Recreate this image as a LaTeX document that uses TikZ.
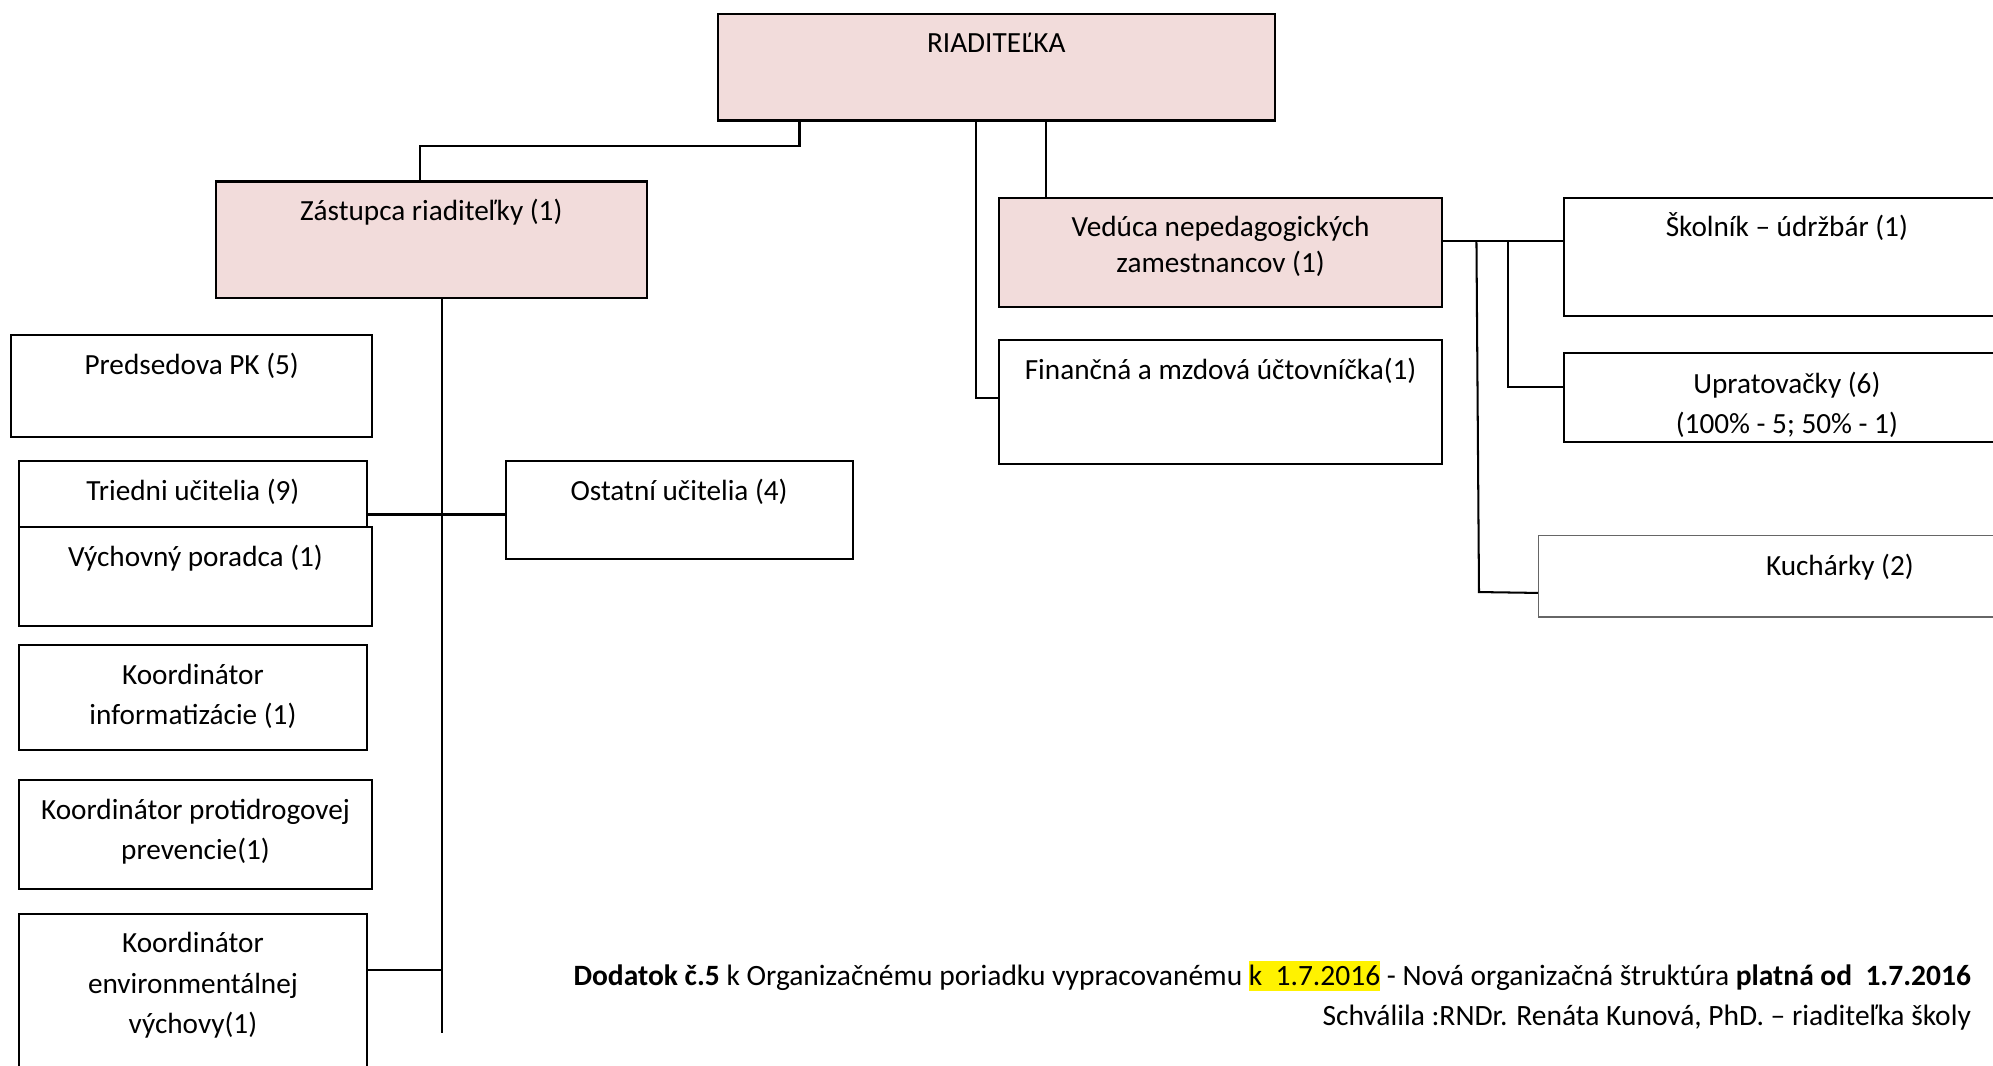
\documentclass[tikz,border=0pt]{standalone}
\usepackage{fontspec}
\setmainfont{Carlito}
\definecolor{pinkbox}{RGB}{242,220,219}
\tikzset{
  box/.style={draw, line width=0.8pt, anchor=north west, inner sep=0pt},
  boss/.style={box, fill=pinkbox},
  lbl/.style={anchor=north, inner sep=0pt, align=center, yshift=-5.5pt,
    execute at begin node={\rule{0pt}{10pt}},
    font=\fontsize{11.5}{16}\selectfont},
  lbltwo/.style={lbl, yshift=-2pt},
  link/.style={line width=0.8pt},
}
\begin{document}
\begin{tikzpicture}[x=0.5pt,y=-0.5pt]
    \useasboundingbox (0,0) rectangle (1568,838);
    \clip (0,0) rectangle (1568,838);

    % top
    \node[boss, minimum width=219pt, minimum height=42pt, label={[lbl]north:RIADITEĽKA}] (riad) at (564,10) {};
    \node[boss, minimum width=169.5pt, minimum height=46pt, label={[lbl]north:Zástupca riaditeľky (1)}] (zast) at (169,142) {};
    \node[boss, minimum width=174.5pt, minimum height=43pt,
        label={[lbltwo, font=\fontsize{11.5}{14}\selectfont]north:{Vedúca nepedagogických\\zamestnancov (1)}}] (ved) at (785,155) {};
    \node[box, minimum width=174.5pt, minimum height=48.5pt, label={[lbl]north:Finančná a mzdová účtovníčka(1)}] (fin) at (785,267) {};

    % right
    \node[box, minimum width=175pt, minimum height=46.5pt, label={[lbl]north:Školník – údržbár (1)}] (skol) at (1230,155) {};
    \node[box, minimum width=175pt, minimum height=35pt, label={[lbltwo]north:{Upratovačky (6)\\(100\% - 5; 50\% - 1)}}] (upr) at (1230,277) {};
    \node[box, draw=black!60, line width=0.5pt, minimum width=237pt, minimum height=32pt, label={[lbl]north:Kuchárky (2)}] (kuch) at (1210,421) {};

    % left
    \node[box, minimum width=142pt, minimum height=40pt, label={[lbl]north:Predsedova PK (5)}] (pk) at (8,263) {};
    \node[box, minimum width=137pt, minimum height=26pt, label={[lbl]north:Triedni učitelia (9)}] (tried) at (14,362) {};
    \node[box, minimum width=139pt, minimum height=39pt, label={[lbl]north:Výchovný poradca (1)}] (vych) at (14,414) {};
    \node[box, minimum width=136.5pt, minimum height=38.5pt, label={[lbl]north:Ostatní učitelia (4)}] (ost) at (397,362) {};
    \node[box, minimum width=137pt, minimum height=41pt, label={[lbltwo]north:{Koordinátor\\informatizácie (1)}}] (kinf) at (14,507) {};
    \node[box, minimum width=139pt, minimum height=43pt, label={[lbltwo]north:{Koordinátor protidrogovej\\prevencie(1)}}] (kprot) at (14,613) {};
    \node[box, minimum width=137pt, minimum height=63.5pt, label={[lbltwo]north:{Koordinátor\\environmentálnej\\výchovy(1)}}] (kenv) at (14,718) {};

    % connectors
    \coordinate (r1) at ([xshift=32.5pt]riad.south west);
    \coordinate (r2) at ([xshift=102pt]riad.south west);
    \coordinate (r3) at ([xshift=129.5pt]riad.south west);
    \draw[link] (r1) -- ++(0,19) -| ([xshift=-4.25pt]zast.north);
    \draw[link] (r2) |- ([yshift=1.75pt]fin.west);
    \draw[link] (r3) -- (r3 |- ved.north);

    \coordinate (v1) at ([yshift=4.5pt]ved.east);
    \draw[link] (v1) -- (v1 -| skol.west);
    \draw[link] ([xshift=25.5pt]v1) |- ([yshift=4pt]upr.west);
    \draw[link] ([xshift=13pt]v1) -- ++(2,276) -- ([yshift=-6.5pt]kuch.west);

    \coordinate (z1) at ([xshift=4.25pt]zast.south);
    \coordinate (z2) at (z1 |- 0,813);
    \draw[link] (z1) -- (z2);
    \draw[link] ([yshift=-1.75pt]ost.west) -- ([yshift=-1.75pt]ost.west -| tried.east);
    \draw[link] ([yshift=9.75pt]kenv.east) -- ([yshift=9.75pt]kenv.east -| z1);

    % note
    \node[anchor=base east, inner sep=0pt, font=\fontsize{11.6}{16}\selectfont] (note1) at (1551,775)
        {\textbf{Dodatok č.5} k Organizačnému poriadku vypracovanému {\setlength{\fboxsep}{0pt}\colorbox{yellow}{\rule[-2.5pt]{0pt}{12pt}k\ \ 1.7.2016}} - Nová organizačná štruktúra \textbf{platná od\ \ 1.7.2016}};
    \node[anchor=base east, inner sep=0pt, font=\fontsize{11.6}{16}\selectfont] (note2) at (1551,807)
        {Schválila :RNDr. Renáta Kunová, PhD. – riaditeľka školy};
\end{tikzpicture}
\end{document}
